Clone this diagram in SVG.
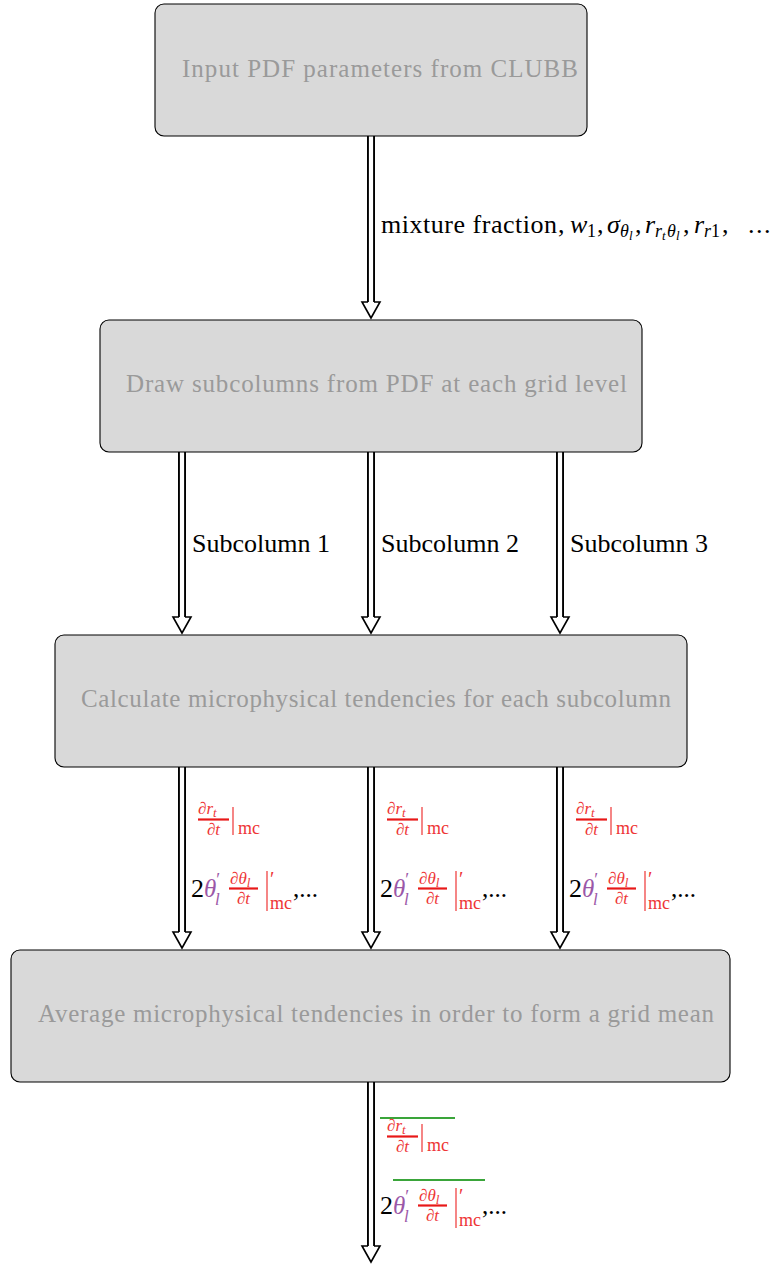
<svg xmlns="http://www.w3.org/2000/svg" width="772" height="1264" viewBox="0 0 772 1264" font-family="'Liberation Serif', Tinos, 'Times New Roman', serif">
  <style>
    .serif { font-family: "Liberation Serif", Tinos, "Times New Roman", serif; }
    .box { fill: #d9d9d9; stroke: #000; stroke-width: 1.1; }
    .box-text { font-size: 25px; fill: #9a9a9a; }
    .lbl { font-size: 26px; fill: #000; }
    .it { font-style: italic; }
    .sub { font-size: 18px; }
    .subsub { font-size: 13px; }
    .shaft-outer { stroke: #000; stroke-width: 8; fill: none; }
    .shaft-inner { stroke: #fff; stroke-width: 4.2; fill: none; }
    .head { fill: #fff; stroke: #000; stroke-width: 1.6; stroke-linejoin: miter; }
    .red { fill: #ee3535; }
    .redline { stroke: #e81818; stroke-width: 2.2; }
    .redbar { stroke: #ee3535; stroke-width: 1.2; }
    .purple { fill: #9b58a8; }
    .black { fill: #000; }
    .green { stroke: #3aa53a; stroke-width: 1.8; }
    .frac { font-size: 17px; font-style: italic; }
    .mc { font-size: 18px; font-style: normal; }
  </style>

  <!-- connectors: double-line arrows with open heads -->
  <g id="connectors">
    <path class="shaft-outer" d="M371 136 V302 M182 452 V617 M371 452 V617 M560 452 V617 M182 767 V932 M371 767 V932 M560 767 V932 M371 1082 V1246"/>
    <path class="shaft-inner" d="M371 136 V303 M182 452 V618 M371 452 V618 M560 452 V618 M182 767 V933 M371 767 V933 M560 767 V933 M371 1082 V1247"/>
    <path class="head" d="M368 302 H362 L371 318 L380 302 H374"/>
    <path class="head" d="M179 617 H173 L182 633 L191 617 H185"/>
    <path class="head" d="M368 617 H362 L371 633 L380 617 H374"/>
    <path class="head" d="M557 617 H551 L560 633 L569 617 H563"/>
    <path class="head" d="M179 932 H173 L182 948 L191 932 H185"/>
    <path class="head" d="M368 932 H362 L371 948 L380 932 H374"/>
    <path class="head" d="M557 932 H551 L560 948 L569 932 H563"/>
    <path class="head" d="M368 1246 H362 L371 1262 L380 1246 H374"/>
  </g>

  <!-- process nodes -->
  <g id="node-input">
    <rect class="box" x="155" y="4" width="432" height="132" rx="9"/>
    <text class="serif box-text" x="182" y="77" textLength="396">Input PDF parameters from CLUBB</text>
  </g>
  <g id="node-draw">
    <rect class="box" x="100" y="320" width="542" height="132" rx="9"/>
    <text class="serif box-text" x="126" y="392" textLength="501">Draw subcolumns from PDF at each grid level</text>
  </g>
  <g id="node-calc">
    <rect class="box" x="55" y="635" width="632" height="132" rx="9"/>
    <text class="serif box-text" x="81" y="707" textLength="590">Calculate microphysical tendencies for each subcolumn</text>
  </g>
  <g id="node-average">
    <rect class="box" x="11" y="950" width="719" height="132" rx="9"/>
    <text class="serif box-text" x="38" y="1022" textLength="676">Average microphysical tendencies in order to form a grid mean</text>
  </g>

  <!-- edge labels -->
  <g id="edge-labels" class="serif">
    <text id="label-pdf-params" class="lbl"><tspan x="381" y="233" textLength="176">mixture fraction</tspan><tspan x="558" y="233">,</tspan><tspan class="it" x="570" y="233">w</tspan><tspan class="sub" x="587" y="237">1</tspan><tspan x="597" y="233">,</tspan><tspan class="it" x="607" y="233">σ</tspan><tspan class="it sub" x="620" y="237">θ</tspan><tspan class="it subsub" x="629" y="240">l</tspan><tspan x="635" y="233">,</tspan><tspan class="it" x="645" y="233">r</tspan><tspan class="it sub" x="655" y="237">r</tspan><tspan class="it subsub" x="662" y="240">t</tspan><tspan class="it sub" x="667" y="237">θ</tspan><tspan class="it subsub" x="676" y="240">l</tspan><tspan x="683" y="233">,</tspan><tspan class="it" x="694" y="233">r</tspan><tspan class="it sub" x="704" y="237">r</tspan><tspan class="sub" x="711" y="237">1</tspan><tspan x="722" y="233">,</tspan><tspan x="748" y="233" letter-spacing="1.5">...</tspan></text>

    <text class="lbl" x="192" y="552">Subcolumn 1</text>
    <text class="lbl" x="381" y="552">Subcolumn 2</text>
    <text class="lbl" x="570" y="552">Subcolumn 3</text>

    <!-- per-subcolumn tendencies -->
    <g id="tend-1">
      <text class="frac red" x="198" y="814">∂r<tspan font-size="13" dy="3">t</tspan></text>
      <line class="redline" x1="198" y1="819.5" x2="229" y2="819.5"/>
      <text class="frac red" x="213.5" y="835" text-anchor="middle">∂t</text>
      <line class="redbar" x1="233" y1="807" x2="233" y2="835"/>
      <text class="mc red" x="238" y="834">mc</text>

      <text font-size="26" x="191" y="897">2<tspan class="it purple" font-size="25">θ</tspan><tspan class="purple" font-size="18" dy="-11">′</tspan><tspan class="it purple" font-size="17" x="215" y="905">l</tspan></text>
      <text class="frac red" x="230" y="883.5">∂θ<tspan font-size="13" dy="3">l</tspan></text>
      <line class="redline" x1="229" y1="888.5" x2="258" y2="888.5"/>
      <text class="frac red" x="243.5" y="904" text-anchor="middle">∂t</text>
      <line class="redbar" x1="267" y1="871" x2="267" y2="911"/>
      <text class="red" font-size="20" x="270" y="886">′<tspan class="mc" x="270" y="909">mc</tspan><tspan class="black" font-size="25" x="293" y="897">,...</tspan></text>
    </g>
    <g id="tend-2" transform="translate(189 0)">
      <text class="frac red" x="198" y="814">∂r<tspan font-size="13" dy="3">t</tspan></text>
      <line class="redline" x1="198" y1="819.5" x2="229" y2="819.5"/>
      <text class="frac red" x="213.5" y="835" text-anchor="middle">∂t</text>
      <line class="redbar" x1="233" y1="807" x2="233" y2="835"/>
      <text class="mc red" x="238" y="834">mc</text>

      <text font-size="26" x="191" y="897">2<tspan class="it purple" font-size="25">θ</tspan><tspan class="purple" font-size="18" dy="-11">′</tspan><tspan class="it purple" font-size="17" x="215" y="905">l</tspan></text>
      <text class="frac red" x="230" y="883.5">∂θ<tspan font-size="13" dy="3">l</tspan></text>
      <line class="redline" x1="229" y1="888.5" x2="258" y2="888.5"/>
      <text class="frac red" x="243.5" y="904" text-anchor="middle">∂t</text>
      <line class="redbar" x1="267" y1="871" x2="267" y2="911"/>
      <text class="red" font-size="20" x="270" y="886">′<tspan class="mc" x="270" y="909">mc</tspan><tspan class="black" font-size="25" x="293" y="897">,...</tspan></text>
    </g>
    <g id="tend-3" transform="translate(378 0)">
      <text class="frac red" x="198" y="814">∂r<tspan font-size="13" dy="3">t</tspan></text>
      <line class="redline" x1="198" y1="819.5" x2="229" y2="819.5"/>
      <text class="frac red" x="213.5" y="835" text-anchor="middle">∂t</text>
      <line class="redbar" x1="233" y1="807" x2="233" y2="835"/>
      <text class="mc red" x="238" y="834">mc</text>

      <text font-size="26" x="191" y="897">2<tspan class="it purple" font-size="25">θ</tspan><tspan class="purple" font-size="18" dy="-11">′</tspan><tspan class="it purple" font-size="17" x="215" y="905">l</tspan></text>
      <text class="frac red" x="230" y="883.5">∂θ<tspan font-size="13" dy="3">l</tspan></text>
      <line class="redline" x1="229" y1="888.5" x2="258" y2="888.5"/>
      <text class="frac red" x="243.5" y="904" text-anchor="middle">∂t</text>
      <line class="redbar" x1="267" y1="871" x2="267" y2="911"/>
      <text class="red" font-size="20" x="270" y="886">′<tspan class="mc" x="270" y="909">mc</tspan><tspan class="black" font-size="25" x="293" y="897">,...</tspan></text>
    </g>

    <!-- grid-mean tendencies (overlined) -->
    <g id="tend-mean" transform="translate(189 317)">
      <line class="green" x1="191" y1="801" x2="266" y2="801"/>
      <text class="frac red" x="198" y="814">∂r<tspan font-size="13" dy="3">t</tspan></text>
      <line class="redline" x1="198" y1="819.5" x2="229" y2="819.5"/>
      <text class="frac red" x="213.5" y="835" text-anchor="middle">∂t</text>
      <line class="redbar" x1="233" y1="807" x2="233" y2="835"/>
      <text class="mc red" x="238" y="834">mc</text>

      <line class="green" x1="204" y1="863" x2="296" y2="863"/>
      <text font-size="26" x="191" y="897">2<tspan class="it purple" font-size="25">θ</tspan><tspan class="purple" font-size="18" dy="-11">′</tspan><tspan class="it purple" font-size="17" x="215" y="905">l</tspan></text>
      <text class="frac red" x="230" y="883.5">∂θ<tspan font-size="13" dy="3">l</tspan></text>
      <line class="redline" x1="229" y1="888.5" x2="258" y2="888.5"/>
      <text class="frac red" x="243.5" y="904" text-anchor="middle">∂t</text>
      <line class="redbar" x1="267" y1="871" x2="267" y2="911"/>
      <text class="red" font-size="20" x="270" y="886">′<tspan class="mc" x="270" y="909">mc</tspan><tspan class="black" font-size="25" x="293" y="897">,...</tspan></text>
    </g>
  </g>
</svg>
